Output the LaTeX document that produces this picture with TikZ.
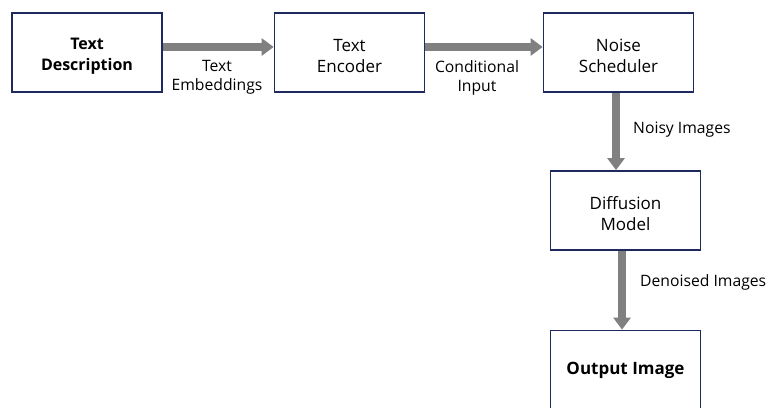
\documentclass[tikz,border=0pt]{standalone}
\usepackage{fontspec}
\setmainfont{Open Sans}
\usetikzlibrary{arrows.meta,positioning}
\definecolor{navy}{RGB}{30,42,94}
\definecolor{arrowgray}{RGB}{128,128,128}
\tikzset{
  blk/.style={draw=navy, line width=1.8pt, fill=white, minimum width=150pt, minimum height=79pt, inner sep=0pt},
  boxtxt/.style={align=center, font=\fontsize{17}{21}\selectfont, inner sep=0pt, yshift=-3.5pt},
  flow/.style={draw=arrowgray, line width=8pt, -{Triangle[length=12pt,width=17pt]}},
  lbl/.style={font=\fontsize{15.7}{19}\selectfont, align=center, inner sep=0pt}
}
\begin{document}
\begin{tikzpicture}[x=1pt,y=-1pt]
\useasboundingbox (0,0) rectangle (768,407);
\clip (0,0) rectangle (768,407);
\node[blk, label={[boxtxt, font=\fontsize{16}{21}\selectfont]center:\textbf{Text}\\\textbf{Description}}] (td) at (87,52.5) {};
\node[blk, label={[boxtxt]center:Text\\Encoder}] (te) at (349.5,52.5) {};
\node[blk, label={[boxtxt]center:Noise\\Scheduler}] (ns) at (618.5,52.5) {};
\node[blk, label={[boxtxt]center:Diffusion\\Model}] (dm) at (625.5,210.5) {};
\node[blk, label={[boxtxt, yshift=3pt]center:\textbf{Output Image}}] (oi) at (625.5,370) {};
\draw[flow] (td.east |- 0,47) -- (te.west |- 0,47);
\draw[flow] (te.east |- 0,47) -- (ns.west |- 0,47);
\coordinate (a1) at (616,0);
\coordinate (a2) at (622,0);
\draw[flow] (a1 |- ns.south) -- (a1 |- dm.north);
\draw[flow] (a2 |- dm.south) -- (a2 |- oi.north);
\node[lbl] (l1) at (217,77.5) {Text\\Embeddings};
\node[lbl] (l2) at (477,77.5) {Conditional\\Input};
\node[lbl, anchor=west] (l3) at (633,129.5) {Noisy Images};
\node[lbl, anchor=west] (l4) at (640,282.5) {Denoised Images};
\end{tikzpicture}
\end{document}
